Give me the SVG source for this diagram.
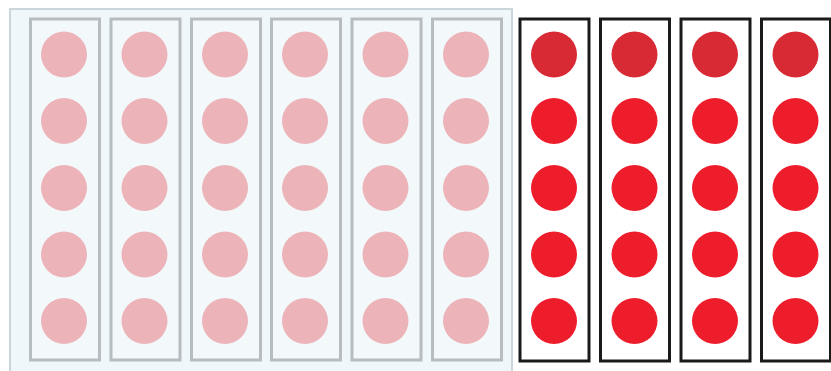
<svg xmlns="http://www.w3.org/2000/svg" width="831" height="371" viewBox="0 0 831 371">
<style>
.panel{fill:#eff7fa;stroke:#c9d7dd;stroke-width:2}
.gcol{fill:#f3f9fb;stroke:#b5bdc0;stroke-width:3}
.bcol{fill:#ffffff;stroke:#1a1a1a;stroke-width:3}
.pink{fill:#ecb4b9}
.red{fill:#ee1d2c}
.redtop{fill:#d82a34}
</style>
<rect width="831" height="371" fill="#ffffff"/>
<rect class="panel" x="10" y="9" width="502" height="366"/>
<defs>
<g id="pinkcol">
<rect class="gcol" x="-33.5" y="19" width="69" height="341"/>
<circle class="pink" cx="0" cy="54.5" r="23"/>
<circle class="pink" cx="0" cy="121" r="23"/>
<circle class="pink" cx="0" cy="188" r="23"/>
<circle class="pink" cx="0" cy="254.5" r="23"/>
<circle class="pink" cx="0" cy="321" r="23"/>
</g>
<g id="redcol">
<rect class="bcol" x="-34" y="19" width="69" height="342"/>
<circle class="redtop" cx="0" cy="54.5" r="23"/>
<circle class="red" cx="0" cy="121" r="23"/>
<circle class="red" cx="0" cy="188" r="23"/>
<circle class="red" cx="0" cy="254.5" r="23"/>
<circle class="red" cx="0" cy="321" r="23"/>
</g>
</defs>
<g id="col1"><use href="#pinkcol" x="64"/></g>
<g id="col2"><use href="#pinkcol" x="144.5"/></g>
<g id="col3"><use href="#pinkcol" x="225"/></g>
<g id="col4"><use href="#pinkcol" x="305"/></g>
<g id="col5"><use href="#pinkcol" x="385.5"/></g>
<g id="col6"><use href="#pinkcol" x="466"/></g>
<g id="col7"><use href="#redcol" x="554"/></g>
<g id="col8"><use href="#redcol" x="634.5"/></g>
<g id="col9"><use href="#redcol" x="715"/></g>
<g id="col10"><use href="#redcol" x="795.5"/></g>
<g id="connectors"></g>
</svg>
